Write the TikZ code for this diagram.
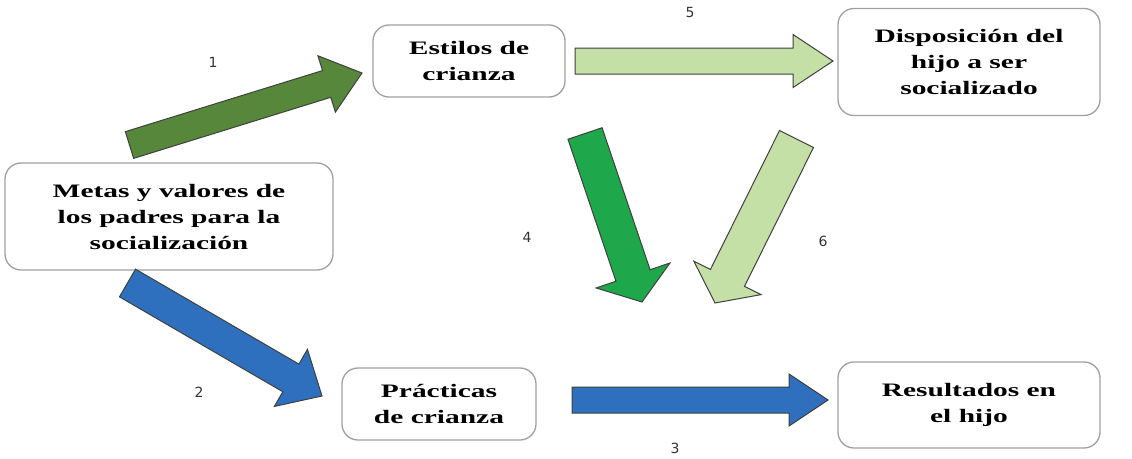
\documentclass[tikz,border=0pt]{standalone}
\usepackage{fontspec}
\usetikzlibrary{calc}
\newfontfamily\boxfont[FakeStretch=1.55]{Liberation Serif}
\newfontfamily\numfont{DejaVu Sans}
\definecolor{dkgreen}{HTML}{56873A}
\definecolor{mdgreen}{HTML}{1FA84B}
\definecolor{ltgreen}{HTML}{C4E0A6}
\definecolor{arblue}{HTML}{2E70BE}
\definecolor{boxgray}{HTML}{A0A0A0}
\tikzset{
  box/.style={draw=boxgray, line width=1.3pt, rounded corners=16pt, fill=white,
    align=center, inner sep=0pt, font=\boxfont\bfseries\fontsize{19}{26}\selectfont},
  num/.style={font=\numfont\fontsize{14}{16}\selectfont, text=black!80},
  fat/.style={draw=black!75, line width=1pt, line join=miter},
}
\newcommand{\fatarrow}[6]{%
  \coordinate (fac) at ($(#2)!#5!(#1)$);
  \draw[fat, fill=#6]
    ($(#1)!#3!90:(#2)$) -- ($(fac)!#3!90:(#2)$) -- ($(fac)!#4!90:(#2)$) --
    (#2) -- ($(fac)!#4!-90:(#2)$) -- ($(fac)!#3!-90:(#2)$) --
    ($(#1)!#3!-90:(#2)$) -- cycle;
}
\begin{document}
\begin{tikzpicture}[x=1pt,y=-1pt]
\useasboundingbox (0,0) rectangle (1132,458);
\fill[white] (0,0) rectangle (1132,458);
% boxes
\node[box, minimum width=328pt, minimum height=107pt] (metas) at (169,216.5)
  {Metas y valores de\\los padres para la\\socialización};
\node[box, minimum width=192pt, minimum height=72pt] (estilos) at (469,61)
  {Estilos de\\crianza};
\node[box, minimum width=262pt, minimum height=107pt] (dispo) at (969,62)
  {Disposición del\\hijo a ser\\socializado};
\node[box, minimum width=194pt, minimum height=72pt] (practicas) at (439,404)
  {Prácticas\\de crianza};
\node[box, minimum width=262pt, minimum height=86pt] (result) at (969,405)
  {Resultados en\\el hijo};
% arrow end points
\coordinate (a1s) at (129.5,145); \coordinate (a1e) at (362,73);
\coordinate (a5s) at (575,61);    \coordinate (a5e) at (833,61);
\coordinate (a4s) at (585,133.5); \coordinate (a4e) at (642,302);
\coordinate (a6s) at (796.5,139); \coordinate (a6e) at (715,303);
\coordinate (a2s) at (127.5,283); \coordinate (a2e) at (322,396);
\coordinate (a3s) at (572,400);   \coordinate (a3e) at (828,400);
\fatarrow{a1s}{a1e}{14pt}{29.5pt}{37pt}{dkgreen}
\fatarrow{a5s}{a5e}{13pt}{26.5pt}{40pt}{ltgreen}
\fatarrow{a4s}{a4e}{18pt}{39pt}{28pt}{mdgreen}
\fatarrow{a6s}{a6e}{19pt}{37.5pt}{28pt}{ltgreen}
\fatarrow{a2s}{a2e}{16pt}{33pt}{36pt}{arblue}
\fatarrow{a3s}{a3e}{13pt}{26pt}{39pt}{arblue}
% labels
\node[num] (n1) at (213,62) {1};
\node[num] (n5) at (690,12) {5};
\node[num] (n4) at (527,237) {4};
\node[num] (n6) at (823,241) {6};
\node[num] (n2) at (199,392) {2};
\node[num] (n3) at (675,448) {3};
\end{tikzpicture}
\end{document}
